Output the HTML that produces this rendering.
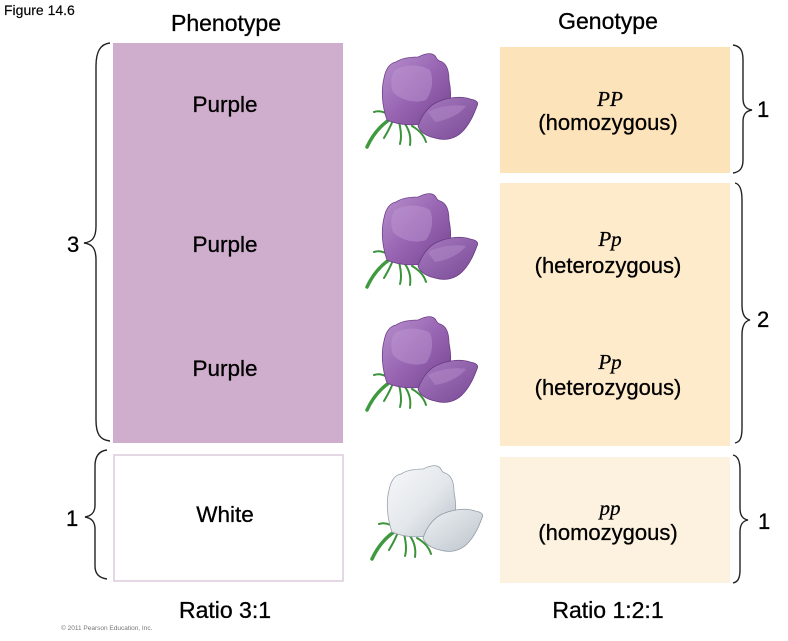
<!DOCTYPE html>
<html>
<head>
<meta charset="utf-8">
<style>
  html,body{margin:0;padding:0;background:#fff;}
  svg{display:block;}
  .s{font-family:"Liberation Sans",Arial,sans-serif;fill:#000;stroke:#000;stroke-width:0.3;}
  .i{font-family:"Liberation Serif","Times New Roman",serif;font-style:italic;fill:#000;stroke:#000;stroke-width:0.3;}
</style>
</head>
<body>
<svg width="788" height="641" viewBox="0 0 788 641" xmlns="http://www.w3.org/2000/svg">
  <defs>
    <linearGradient id="pb" x1="0" y1="0" x2="1" y2="1">
      <stop offset="0" stop-color="#b891cd"/>
      <stop offset="0.5" stop-color="#9865b3"/>
      <stop offset="1" stop-color="#74448f"/>
    </linearGradient>
    <linearGradient id="pp2" x1="0" y1="0" x2="1" y2="1">
      <stop offset="0" stop-color="#a77bc0"/>
      <stop offset="1" stop-color="#7a4996"/>
    </linearGradient>
    <linearGradient id="wb" x1="0" y1="0" x2="1" y2="1">
      <stop offset="0" stop-color="#f7f8fa"/>
      <stop offset="0.55" stop-color="#e3e7eb"/>
      <stop offset="1" stop-color="#b9c1c9"/>
    </linearGradient>
    <linearGradient id="wp" x1="0" y1="0" x2="1" y2="1">
      <stop offset="0" stop-color="#eef1f3"/>
      <stop offset="1" stop-color="#bcc4cc"/>
    </linearGradient>
    <g id="stem">
      <path d="M367,147 C373,134 382,124 392,118" stroke="#3f9a3f" stroke-width="3.5" fill="none" stroke-linecap="round"/>
      <g stroke="#3a933a" stroke-width="2" fill="none" stroke-linecap="round">
        <path d="M392,118 C386,112 380,110 374,112"/>
        <path d="M393,120 C390,128 387,133 384,138"/>
        <path d="M399,122 C401,130 402,137 400,144"/>
        <path d="M405,124 C410,131 411,138 410,145"/>
        <path d="M412,126 C419,130 424,135 426,142"/>
        <path d="M395,117 C398,110 402,106 406,104"/>
      </g>
    </g>
    <g id="pflower">
      <use href="#stem"/>
      <path d="M387,120 C382,106 381,90 384,78 C386,68 390,63 396,62 C402,58 410,57 418,57 C424,54 430,52 434,55 C437,57 436,60 440,61 C446,63 449,70 449,80 C451,90 451,98 450,104 L432,122 C418,126 400,126 387,120 Z" fill="url(#pb)" stroke="#6e4089" stroke-width="0.8"/>
      <path d="M395,70 C405,64 420,64 430,70 C434,80 432,92 426,100 C415,104 400,100 393,92 C390,84 391,75 395,70 Z" fill="#c09ad3" opacity="0.45"/>
      <path d="M418,126 C422,114 430,104 440,101 C450,97 462,96 470,99 C476,100 479,102 477,106 C474,114 470,124 462,132 C455,139 445,141 435,138 C426,136 420,132 418,126 Z" fill="url(#pp2)" stroke="#673a82" stroke-width="0.8"/>
      <path d="M428,112 C440,106 455,104 466,106 C460,114 448,120 435,122 Z" fill="#b48bc9" opacity="0.5"/>
    </g>
  </defs>

  <!-- Titles -->
  <text x="4" y="15" class="s" font-size="14" style="stroke-width:0.15">Figure 14.6</text>
  <text x="226" y="31" class="s" font-size="23" text-anchor="middle">Phenotype</text>
  <text x="608" y="29" class="s" font-size="23" text-anchor="middle">Genotype</text>

  <!-- Phenotype boxes -->
  <rect x="113" y="43" width="230" height="400" fill="#cfaecd"/>
  <rect x="114" y="455" width="229" height="126" fill="#fff" stroke="#dccbdc" stroke-width="1.5"/>
  <text x="225" y="112" class="s" font-size="22.5" text-anchor="middle">Purple</text>
  <text x="225" y="252" class="s" font-size="22.5" text-anchor="middle">Purple</text>
  <text x="225" y="376" class="s" font-size="22.5" text-anchor="middle">Purple</text>
  <text x="225" y="522" class="s" font-size="22.5" text-anchor="middle">White</text>

  <!-- Genotype boxes -->
  <rect x="500" y="47" width="230" height="126" fill="#fde3ba"/>
  <rect x="500" y="183" width="230" height="263" fill="#feebcc"/>
  <rect x="500" y="457" width="230" height="126" fill="#fdf1e0"/>

  <text x="610" y="106" class="i" font-size="21" text-anchor="middle">PP</text>
  <text x="608" y="130" class="s" font-size="22" text-anchor="middle">(homozygous)</text>
  <text x="610" y="246" class="i" font-size="21" text-anchor="middle">Pp</text>
  <text x="608" y="273" class="s" font-size="22" text-anchor="middle">(heterozygous)</text>
  <text x="610" y="369" class="i" font-size="21" text-anchor="middle">Pp</text>
  <text x="608" y="395" class="s" font-size="22" text-anchor="middle">(heterozygous)</text>
  <text x="610" y="515" class="i" font-size="21" text-anchor="middle">pp</text>
  <text x="608" y="540" class="s" font-size="22" text-anchor="middle">(homozygous)</text>

  <!-- Braces -->
  <g stroke="#222" stroke-width="1.4" fill="none">
    <path d="M110,43 C100,44 96,52 96,66 L96,226 C96,238 92,242 84,243 C92,244 96,248 96,260 L96,420 C96,434 100,440 110,441"/>
    <path d="M107,450 C99,451 95,456 95,466 L95,505 C95,513 91,516 85,517 C91,518 95,521 95,529 L95,566 C95,574 99,578 107,579"/>
    <path d="M733,45 C740,46 743,50 743,60 L743,98 C743,106 746,109 752,110 C746,111 743,114 743,122 L743,160 C743,168 740,172 733,173"/>
    <path d="M735,183 C740,184 742,190 742,200 L742,305 C742,315 745,319 750,320 C745,321 742,325 742,335 L742,428 C742,438 740,442 735,443"/>
    <path d="M733,455 C738,456 740,462 740,470 L740,508 C740,516 743,519 748,520 C743,521 740,524 740,532 L740,570 C740,578 738,582 733,583"/>
  </g>

  <!-- Brace numbers -->
  <text x="67" y="252" class="s" font-size="22">3</text>
  <text x="66" y="526" class="s" font-size="22">1</text>
  <text x="757" y="117" class="s" font-size="22">1</text>
  <text x="757" y="327" class="s" font-size="22">2</text>
  <text x="758" y="529" class="s" font-size="22">1</text>

  <!-- Flowers -->
  <use href="#pflower"/>
  <use href="#pflower" transform="translate(0,140)"/>
  <use href="#pflower" transform="translate(0,263)"/>
  <g transform="translate(5,412)">
    <use href="#stem"/>
    <path d="M387,120 C382,106 381,90 384,78 C386,68 390,63 396,62 C402,58 410,57 418,57 C424,54 430,52 434,55 C437,57 436,60 440,61 C446,63 449,70 449,80 C451,90 451,98 450,104 L432,122 C418,126 400,126 387,120 Z" fill="url(#wb)" stroke="#98a2ad" stroke-width="0.8"/>
    <path d="M418,126 C422,114 430,104 440,101 C450,97 462,96 470,99 C476,100 479,102 477,106 C474,114 470,124 462,132 C455,139 445,141 435,138 C426,136 420,132 418,126 Z" fill="url(#wp)" stroke="#8f99a4" stroke-width="0.8"/>
  </g>

  <!-- Ratios -->
  <text x="225" y="618" class="s" font-size="23" text-anchor="middle">Ratio 3:1</text>
  <text x="608" y="618" class="s" font-size="23" text-anchor="middle">Ratio 1:2:1</text>
  <text x="61" y="630" font-family="Liberation Sans, Arial, sans-serif" font-size="6.5" fill="#777">© 2011 Pearson Education, Inc.</text>
</svg>
</body>
</html>
